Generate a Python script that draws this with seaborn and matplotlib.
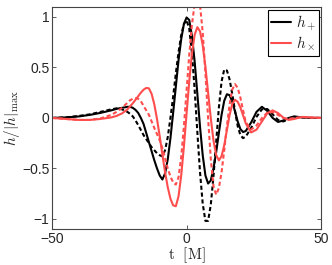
import matplotlib
matplotlib.use("Agg")
import matplotlib.pyplot as plt
import seaborn as sns
import pandas as pd
from matplotlib.lines import Line2D

t = [-50, -45, -40, -36, -32, -28, -26, -24,
     -22, -21, -20, -19, -18, -17, -16, -15, -14, -13, -12,
     -11, -10, -9, -8, -7, -6, -5, -4, -3, -2, -1,
     0, 1, 2, 3, 4, 5, 6, 7, 8, 9, 10,
     11, 12, 13, 14, 15, 16, 17, 18, 19, 20, 21, 22,
     24, 26, 28, 30, 32, 34, 36, 38, 40, 43, 46, 50]

hplus_solid = [0.0, 0.005, 0.015, 0.03, 0.05, 0.075, 0.09, 0.10,
               0.11, 0.11, 0.10, 0.08, 0.05, 0.0, -0.06, -0.15, -0.24, -0.33, -0.42,
               -0.50, -0.57, -0.61, -0.55, -0.41, -0.20, 0.05, 0.31, 0.57, 0.78, 0.93,
               0.995, 0.97, 0.81, 0.56, 0.24, -0.09, -0.37, -0.57, -0.65, -0.62, -0.50,
               -0.34, -0.15, 0.03, 0.17, 0.235, 0.225, 0.16, 0.065, -0.035, -0.11, -0.14, -0.13,
               -0.045, 0.06, 0.11, 0.07, 0.0, -0.04, -0.025, 0.0, 0.015, 0.005, 0.0, 0.0]

hplus_dashed = [0.0, 0.005, 0.02, 0.035, 0.06, 0.085, 0.095, 0.085,
                0.06, 0.04, 0.015, -0.025, -0.07, -0.12, -0.17, -0.21, -0.25, -0.29, -0.32,
                -0.35, -0.37, -0.38, -0.32, -0.19, 0.0, 0.21, 0.44, 0.65, 0.82, 0.93,
                0.97, 0.88, 0.64, 0.28, -0.14, -0.54, -0.85, -1.02, -1.02, -0.86, -0.58,
                -0.24, 0.10, 0.36, 0.48, 0.47, 0.38, 0.235, 0.07, -0.08, -0.17, -0.20, -0.185,
                -0.10, 0.01, 0.085, 0.088, 0.036, -0.02, -0.035, -0.01, 0.01, 0.005, 0.0, 0.0]

hcross_solid = [0.0, -0.01, -0.02, -0.02, -0.01, 0.005, 0.02, 0.045,
                0.085, 0.115, 0.145, 0.18, 0.215, 0.25, 0.28, 0.297, 0.293, 0.238, 0.134,
                -0.011, -0.181, -0.363, -0.537, -0.687, -0.801, -0.866, -0.875, -0.777, -0.57, -0.285,
                0.043, 0.366, 0.639, 0.824, 0.899, 0.858, 0.72, 0.508, 0.252, -0.003, -0.223,
                -0.367, -0.42, -0.38, -0.27, -0.12, 0.03, 0.14, 0.18, 0.16, 0.104, 0.026, -0.054,
                -0.144, -0.116, -0.035, 0.046, 0.075, 0.048, 0.002, -0.02, -0.01, 0.01, 0.005, 0.0]

hcross_dashed = [0.0, -0.01, -0.02, -0.02, -0.005, 0.03, 0.06, 0.10,
                 0.15, 0.175, 0.19, 0.195, 0.19, 0.165, 0.12, 0.075, 0.03, -0.035, -0.10,
                 -0.16, -0.22, -0.30, -0.40, -0.50, -0.58, -0.64, -0.66, -0.589, -0.388, -0.086,
                 0.27, 0.626, 0.928, 1.129, 1.2, 1.117, 0.846, 0.444, -0.004, -0.406, -0.677,
                 -0.76, -0.696, -0.54, -0.321, -0.081, 0.134, 0.282, 0.335, 0.299, 0.202, 0.075, -0.041,
                 -0.115, -0.075, -0.002, 0.052, 0.058, 0.03, 0.0, -0.01, 0.0, 0.008, 0.003, 0.0]

xticks = [-50, 0, 50]
xticklabels = ["\u221250", "0", "50"]
yticks = [-1, -0.5, 0, 0.5, 1]
yticklabels = ["\u22121", "\u22120.5", "0", "0.5", "1"]

sns.set_style("ticks")
plt.rcParams['font.family'] = ['Liberation Sans', 'DejaVu Sans']
plt.rcParams['mathtext.fontset'] = 'cm'

df = pd.DataFrame({"t": t, "ps": hplus_solid, "pd": hplus_dashed,
                   "cs": hcross_solid, "cd": hcross_dashed})

black = "#000000"
red = "#ff4d4d"

fig = plt.figure(figsize=(3.32, 2.65), dpi=100)
ax = fig.add_axes([0.157, 0.136, 0.810, 0.838])

dash = (0, (2.0, 1.3))
sns.lineplot(data=df, x="t", y="ps", ax=ax, color=black, lw=1.5, sort=False, estimator=None)
sns.lineplot(data=df, x="t", y="pd", ax=ax, color=black, lw=1.5, sort=False, estimator=None, linestyle=dash)
sns.lineplot(data=df, x="t", y="cs", ax=ax, color=red, lw=1.5, sort=False, estimator=None)
sns.lineplot(data=df, x="t", y="cd", ax=ax, color=red, lw=1.5, sort=False, estimator=None, linestyle=dash)

ax.set_xlim(-50, 50)
ax.set_ylim(-1.1, 1.1)
ax.set_xticks(xticks)
ax.set_xticklabels(xticklabels, fontsize=10)
ax.set_yticks(yticks)
ax.set_yticklabels(yticklabels, fontsize=10)
ax.tick_params(direction="in", length=3, width=0.6, color="#444444",
               top=True, right=True, pad=2)
for s in ax.spines.values():
    s.set_visible(True)
    s.set_color("#444444")
    s.set_linewidth(0.8)

ax.set_xlabel(r"$\mathrm{t\ \ [M]}$", fontsize=11, labelpad=0)
ax.set_ylabel(r"$h/|h|_{\mathrm{max}}$", fontsize=11, labelpad=0)

handles = [Line2D([], [], color=black, lw=1.5), Line2D([], [], color=red, lw=1.5)]
leg = ax.legend(handles, [r"$h_+$", r"$h_\times$"], loc="upper right",
                bbox_to_anchor=(0.993, 0.986), borderaxespad=0, fontsize=11,
                handlelength=1.3, handletextpad=0.3, borderpad=0.2,
                labelspacing=0.1, fancybox=False, framealpha=1)
leg.get_frame().set_edgecolor("black")
leg.get_frame().set_linewidth(0.8)

fig.savefig("out.png", dpi=100)
